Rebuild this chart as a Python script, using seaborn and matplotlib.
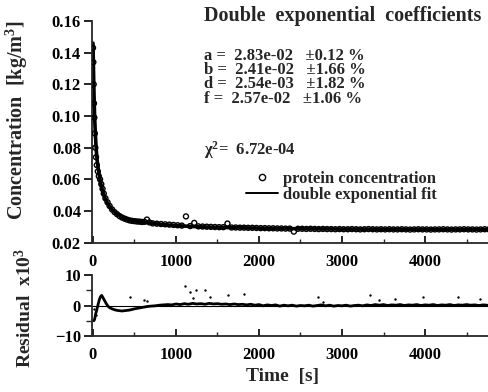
import matplotlib
matplotlib.use("Agg")
import matplotlib.pyplot as plt
from matplotlib.ticker import MultipleLocator, FormatStrFormatter
from matplotlib.lines import Line2D
import seaborn as sns
import pandas as pd

# ---------------- data ----------------
conc_t = [0, 4, 8, 12, 16, 22, 28, 36, 46, 58, 70, 85, 100, 115, 130, 150, 175, 200,
          230, 260, 290, 320, 350, 380, 410, 440, 470, 500, 530, 560, 590, 620, 650, 680,
          720, 770, 820, 870, 920, 970, 1020, 1070, 1120, 1170, 1220, 1270, 1320, 1370,
          1420, 1470, 1520, 1570, 1620, 1670, 1720, 1770, 1820, 1870, 1920, 1970, 2020,
          2070, 2120, 2170, 2220, 2270, 2320, 2370, 2420, 2470, 2520, 2570, 2620, 2670,
          2720, 2770, 2820, 2870, 2920, 2970, 3020, 3070, 3120, 3170, 3220, 3270, 3320,
          3370, 3420, 3470, 3520, 3570, 3620, 3670, 3720, 3770, 3820, 3870, 3920, 3970,
          4020, 4070, 4120, 4170, 4220, 4270, 4320, 4370, 4420, 4470, 4520, 4570, 4620,
          4670, 4720, 4770]
conc_v = [0.143, 0.134, 0.120, 0.108, 0.099, 0.089, 0.080, 0.074, 0.069, 0.065, 0.062,
          0.060, 0.057, 0.054, 0.051, 0.048, 0.0455, 0.0432, 0.0410, 0.0393, 0.0380,
          0.0368, 0.0359, 0.0352, 0.0346, 0.0341, 0.0338, 0.0336, 0.0334, 0.0333, 0.0331,
          0.0332, 0.0346, 0.0328,
          0.0322, 0.0320, 0.0318, 0.0316, 0.0314, 0.0312, 0.0310, 0.0308, 0.0366, 0.0305,
          0.0325, 0.0303, 0.0302, 0.0301, 0.0300, 0.0299, 0.0298, 0.0298, 0.0321, 0.0296,
          0.0296, 0.0295, 0.0295, 0.0294, 0.0294, 0.0293, 0.0292, 0.0292, 0.0291, 0.0291,
          0.0290, 0.0290, 0.0289, 0.0289, 0.0270, 0.0288, 0.0288, 0.0287, 0.0288, 0.0287,
          0.0286, 0.0287, 0.0286, 0.0286, 0.0285, 0.0286, 0.0285, 0.0285, 0.0286, 0.0285,
          0.0284, 0.0285, 0.0286, 0.0285, 0.0284, 0.0285, 0.0284, 0.0285, 0.0284, 0.0284,
          0.0285, 0.0284, 0.0283, 0.0284, 0.0285, 0.0284, 0.0284, 0.0283, 0.0284, 0.0284,
          0.0285, 0.0284, 0.0283, 0.0284, 0.0284, 0.0285, 0.0284, 0.0284, 0.0283, 0.0284,
          0.0285, 0.0284]

fit_t = [0, 5, 10, 15, 20, 30, 40, 50, 65, 80, 100, 125, 150, 180, 220, 270, 330, 400,
         480, 560, 650, 750, 900, 1100, 1300, 1600, 2000, 2500, 3000, 3600, 4200, 4800]
fit_v = [0.146, 0.132, 0.119, 0.108, 0.099, 0.087, 0.078, 0.072, 0.066, 0.061, 0.056,
         0.051, 0.0475, 0.0445, 0.0415, 0.0388, 0.0367, 0.0351, 0.0340, 0.0333, 0.0327,
         0.0320, 0.0312, 0.0305, 0.0300, 0.0296, 0.0292, 0.0288, 0.0286, 0.0285, 0.0284,
         0.0284]

res_t = [10, 20, 30, 45, 60, 75, 90, 105, 120, 140, 160, 180, 200, 230, 260, 290, 320,
         350, 380, 410, 440, 470, 500, 540, 580, 620, 660, 700, 750, 800,
         850, 900, 950, 1000, 1050, 1100, 1150, 1200, 1250, 1300, 1350, 1400, 1450, 1500,
         1550, 1600, 1650, 1700, 1750, 1800, 1850, 1900, 1950, 2000, 2050, 2100, 2150,
         2200, 2250, 2300, 2350, 2400, 2450, 2500, 2550, 2600, 2650, 2700, 2750, 2800,
         2850, 2900, 2950, 3000, 3050, 3100, 3150, 3200, 3250, 3300, 3350, 3400, 3450,
         3500, 3550, 3600, 3650, 3700, 3750, 3800, 3850, 3900, 3950, 4000, 4050, 4100,
         4150, 4200, 4250, 4300, 4350, 4400, 4450, 4500, 4550, 4600, 4650, 4700, 4750]
res_v = [-5.0, -4.5, -3.0, -1.5, 0.2, 1.8, 2.9, 3.3, 2.6, 1.6, 0.6, -0.2, -0.7, -1.1,
         -1.4, -1.6, -1.7, -1.8, -1.7, -1.6, -1.5, -1.3, -1.1, -0.9, -0.7, -0.5, -0.3,
         -0.2, -0.1, 0.1,
         0.2, 0.3, 0.2, 0.5, 0.3, 0.6, 0.4, 0.7, 0.5, 0.6, 0.4, 0.7, 0.5, 0.6, 0.4, 0.5,
         0.3, 0.5, 0.3, 0.4, 0.2, 0.4, 0.1, 0.3, -0.1, 0.2, 0.0, 0.2, -0.2, 0.1, -0.1,
         0.1, -0.2, 0.0, -0.1, 0.1, -0.2, 0.0, 0.2, -0.1, 0.1, -0.2, 0.0, -0.1, 0.1, -0.2,
         0.0, 0.1, -0.1, 0.2, 0.0, 0.3, 0.1, 0.3, 0.0, 0.2, 0.1, 0.3, 0.0, 0.2, 0.1, 0.3,
         0.0, 0.2, 0.1, 0.3, 0.0, 0.2, 0.1, 0.3, 0.0, 0.2, 0.1, 0.3, 0.1, 0.2, 0.0, 0.2,
         0.1]

out_t = [15, 40, 450, 613, 650, 1110, 1163, 1203, 1244, 1345, 1406, 1630, 1825, 2716,
         2777, 3337, 3451, 3634, 3972, 4394, 4659]
out_v = [-1.3, -3.2, 2.7, 1.8, 1.5, 6.5, 4.4, 2.6, 5.2, 5.2, 2.7, 3.4, 3.7, 2.9, 1.1,
         3.4, 1.9, 2.0, 2.9, 2.7, 2.1]

conc_ticks = [0.02, 0.04, 0.06, 0.08, 0.10, 0.12, 0.14, 0.16]
res_ticks = [-10, 0, 10]
time_ticks = [0, 1000, 2000, 3000, 4000]

coef_lines = ["a =  2.83e-02   \u00b10.12 %",
              "b =  2.41e-02   \u00b11.66 %",
              "d =  2.54e-03   \u00b11.82 %",
              "f =  2.57e-02   \u00b11.06 %"]
chi_text = "\u03c7$^\\mathregular{2}$=  6.72e-04"

# ---------------- style ----------------
sns.set_theme(style="ticks")
plt.rcParams["font.family"] = ["Liberation Serif", "DejaVu Serif"]
plt.rcParams["font.weight"] = "bold"
plt.rcParams["mathtext.fontset"] = "custom"
plt.rcParams["mathtext.rm"] = "Liberation Serif:bold"
plt.rcParams["mathtext.it"] = "Liberation Serif:bold"
plt.rcParams["mathtext.bf"] = "Liberation Serif:bold"
plt.rcParams["axes.linewidth"] = 1.3

W, H = 488, 392
fig = plt.figure(figsize=(W / 100, H / 100), dpi=100)
fig.patch.set_facecolor("white")

x0 = 92 / W
ax1 = fig.add_axes([x0, 1 - 242.7 / H, 1 - x0, (242.7 - 21) / H])
ax2 = fig.add_axes([x0, 1 - 336 / H, 1 - x0, (336 - 275) / H])

df_c = pd.DataFrame({"t": conc_t, "c": conc_v})
df_f = pd.DataFrame({"t": fit_t, "c": fit_v})
df_r = pd.DataFrame({"t": res_t, "r": res_v})
df_o = pd.DataFrame({"t": out_t, "r": out_v})

sns.lineplot(data=df_f, x="t", y="c", ax=ax1, color="black", lw=2.6, sort=False)
sns.scatterplot(data=df_c, x="t", y="c", ax=ax1, marker="o", s=13,
                facecolors="none", edgecolor="black", linewidth=1.0, zorder=3)

sns.lineplot(data=df_r, x="t", y="r", ax=ax2, color="black", lw=2.0, sort=False)
sns.scatterplot(data=df_o, x="t", y="r", ax=ax2, marker="o", s=3,
                color="black", linewidth=0, zorder=3)
ax2.axhline(0, color="black", lw=0.8, zorder=1)

xlim = (-12, 4759)
for ax in (ax1, ax2):
    ax.set_xlim(*xlim)
    ax.set_facecolor("white")
    for s in ("top", "right"):
        ax.spines[s].set_visible(False)
    ax.set_xlabel("")
    ax.set_ylabel("")
    ax.set_xticks(time_ticks)
    ax.set_xticklabels([str(v) for v in time_ticks])
    ax.xaxis.set_minor_locator(MultipleLocator(500))
    ax.tick_params(axis="x", which="major", direction="in", length=5, width=1.2,
                   pad=8, labelsize=12, colors="black")
    ax.tick_params(axis="x", which="minor", direction="in", length=3, width=1.0)
    ax.tick_params(axis="y", which="major", direction="out", length=6, width=1.2,
                   pad=2, labelsize=12, colors="black")

ax1.set_ylim(0.02, 0.16)
ax1.set_yticks(conc_ticks)
ax1.yaxis.set_major_formatter(FormatStrFormatter("%.2f"))
ax2.set_ylim(-10, 10)
ax2.set_yticks(res_ticks)
ax2.yaxis.set_minor_locator(MultipleLocator(5))
ax2.tick_params(axis="y", which="minor", direction="out", length=4, width=1.0)
for ax in (ax1, ax2):
    for lab in ax.get_xticklabels() + ax.get_yticklabels():
        lab.set_fontweight("bold")

# axis labels
fig.text(17 / W, 1 - 120 / H, "Concentration  [kg/m$^\\mathregular{3}$]", rotation=90,
         ha="center", va="center", fontsize=14.5, fontweight="bold")
fig.text(24 / W, 1 - 308 / H, "Residual  x10$^\\mathregular{3}$", rotation=90,
         ha="center", va="center", fontsize=14, fontweight="bold")
fig.text(283 / W, 1 - 377 / H, "Time  [s]", ha="center", va="center",
         fontsize=14, fontweight="bold")

# coefficient block
fig.text(204 / W, 1 - 16 / H, "Double  exponential  coefficients", ha="left",
         va="center", fontsize=14.5, fontweight="bold")
fig.text(204 / W, 1 - 48 / H, "\n".join(coef_lines), ha="left", va="top",
         fontsize=12, fontweight="bold", linespacing=0.85)
fig.text(204 / W, 1 - 150 / H, chi_text, ha="left", va="center", fontsize=12,
         fontweight="bold")

# legend
h1 = Line2D([], [], marker="o", ls="none", markerfacecolor="none",
            markeredgecolor="black", markersize=4.5, markeredgewidth=1.0)
h2 = Line2D([], [], color="black", lw=1.4)
leg = fig.legend([h1, h2], ["protein concentration", "double exponential fit"],
                 loc="upper left", bbox_to_anchor=(246 / W, 1 - 171 / H),
                 frameon=False, fontsize=12, handlelength=1.9, handletextpad=0.3,
                 labelspacing=0.0, borderpad=0, borderaxespad=0, numpoints=1)
for t in leg.get_texts():
    t.set_fontweight("bold")

fig.savefig("out.png", dpi=100, facecolor="white")
